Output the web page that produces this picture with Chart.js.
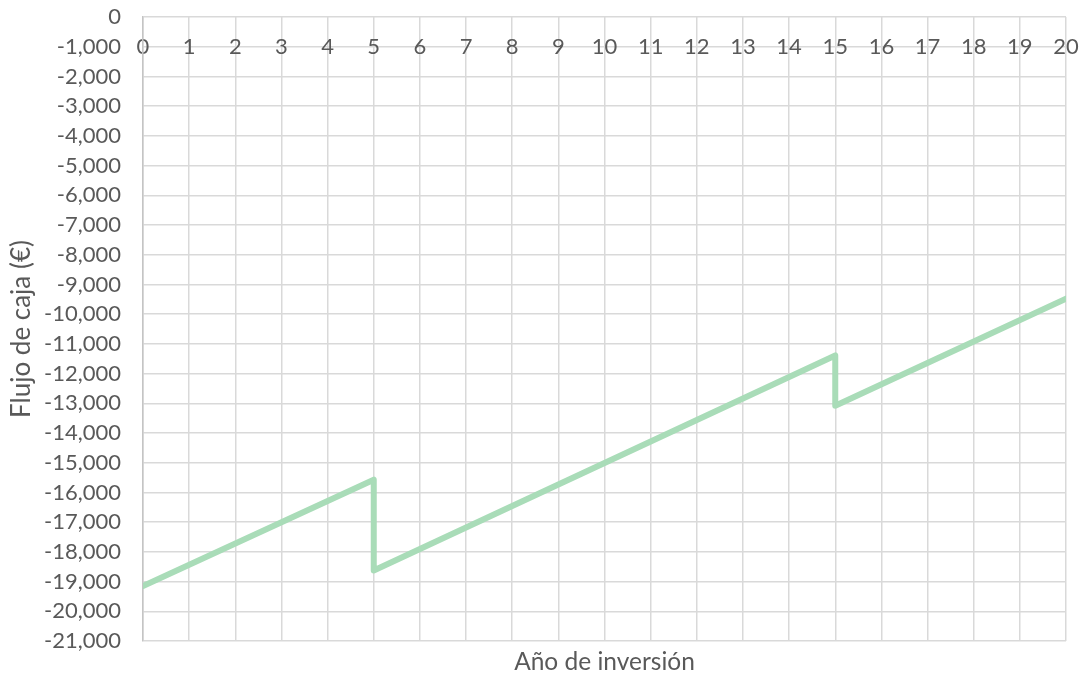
<!DOCTYPE html>
<html>
<head>
<meta charset="utf-8">
<script src="https://cdn.jsdelivr.net/npm/chart.js@4/dist/chart.umd.min.js"></script>
<style>
  html, body { margin: 0; padding: 0; background: #ffffff; }
  #wrap { position: relative; width: 1083px; height: 677px; }
</style>
</head>
<body>
<div id="wrap"><canvas id="chart" width="1083" height="677"></canvas></div>
<script>
// Cash flow per investment year (vertices of the line; drops at years 5 and 15)
const years = [0, 5, 5, 15, 15, 20];
const cashFlow = [-19150, -15570, -18630, -11390, -13080, -9480];

const yearTicks = [0, 20];       // x range
const flowRange = [-21000, 0];   // y range
const flowStep = 1000;

const xTitle = 'Año de inversión';
const yTitle = 'Flujo de caja (€)';

const textColor = '#595959';
const gridColor = '#d9d9d9';
const fontFamily = 'Lato, "Open Sans", sans-serif';

const points = years.map((x, i) => ({ x: x, y: cashFlow[i] }));

// Keep the plot area where the layout padding puts it
const noScalePadding = (s) => {
  s.paddingTop = 0; s.paddingBottom = 0;
  s.paddingLeft = 0; s.paddingRight = 0;
};

new Chart(document.getElementById('chart'), {
  type: 'scatter',
  data: {
    datasets: [{
      data: points,
      showLine: true,
      borderColor: '#a9dcb8',
      backgroundColor: '#a9dcb8',
      borderWidth: 6,
      borderCapStyle: 'round',
      borderJoinStyle: 'round',
      pointRadius: 0,
      pointHoverRadius: 0,
      tension: 0
    }]
  },
  options: {
    responsive: false,
    animation: false,
    layout: { padding: { top: 17, right: 17, bottom: 0, left: 0 } },
    plugins: {
      legend: { display: false },
      tooltip: { enabled: false }
    },
    scales: {
      x: {
        type: 'linear',
        position: 'bottom',
        min: yearTicks[0],
        max: yearTicks[1],
        ticks: { display: false, stepSize: 1 },
        grid: { color: gridColor, lineWidth: 1.5, drawTicks: false },
        border: { display: false },
        title: {
          display: true,
          text: xTitle,
          color: textColor,
          font: { family: fontFamily, size: 24.5 },
          padding: { top: 0, bottom: 0 }
        },
        afterFit: (s) => { s.height = 36; noScalePadding(s); }
      },
      xLabels: {
        type: 'linear',
        axis: 'x',
        position: { y: 0 },
        min: yearTicks[0],
        max: yearTicks[1],
        ticks: {
          stepSize: 1,
          color: textColor,
          font: { family: fontFamily, size: 22 },
          padding: 17,
          maxRotation: 0,
          autoSkip: false
        },
        grid: { display: false, drawTicks: false },
        border: { display: false },
        afterFit: (s) => { s.height = 0; noScalePadding(s); }
      },
      y: {
        type: 'linear',
        min: flowRange[0],
        max: flowRange[1],
        ticks: {
          stepSize: flowStep,
          color: textColor,
          font: { family: fontFamily, size: 22 },
          padding: 22,
          callback: (v) => v.toLocaleString('en-US')
        },
        grid: { color: gridColor, lineWidth: 1.5, drawTicks: false },
        border: { display: true, color: '#c4c4c4', width: 1.5 },
        title: {
          display: true,
          text: yTitle,
          color: textColor,
          font: { family: fontFamily, size: 26 },
          padding: { top: 6, bottom: 0 }
        },
        afterFit: (s) => { s.width = 143; noScalePadding(s); }
      }
    }
  }
});
</script>
</body>
</html>
